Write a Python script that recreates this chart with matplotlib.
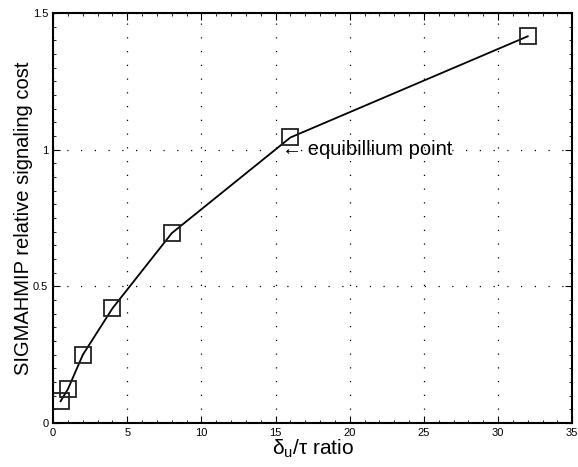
import matplotlib
matplotlib.use('Agg')
import matplotlib.pyplot as plt
from matplotlib.ticker import MultipleLocator

plt.rcParams['font.family'] = ['Liberation Sans', 'DejaVu Sans']
plt.rcParams['mathtext.fontset'] = 'custom'
plt.rcParams['mathtext.rm'] = 'Liberation Sans'
plt.rcParams['mathtext.it'] = 'Liberation Sans'

# data
ratio = [0.5, 1, 2, 4, 8, 16, 32]
cost = [0.08, 0.125, 0.25, 0.42, 0.695, 1.045, 1.415]

fig = plt.figure(figsize=(5.78, 4.67), dpi=100)
ax = fig.add_axes([0.092, 0.094, 0.898, 0.878])

ax.plot(ratio, cost, color='black', lw=1.3, marker='s', ms=11,
        mfc='none', mec='#222222', mew=1.3)
ax.text(15.4, 1.0, '\u2190 equibillium point', fontsize=14.5, va='center', ha='left')

ax.set_xlim(0, 35)
ax.set_ylim(0, 1.5)
ax.set_xticks([0, 5, 10, 15, 20, 25, 30, 35])
ax.set_yticks([0, 0.5, 1, 1.5])
ax.set_yticklabels(['0', '0.5', '1', '1.5'])
ax.xaxis.set_minor_locator(MultipleLocator(1))
ax.yaxis.set_minor_locator(MultipleLocator(0.05))
ax.tick_params(which='both', direction='in', top=True, right=True, labelsize=8)
ax.tick_params(which='major', length=5)
ax.tick_params(which='minor', length=2.5)
ax.grid(True, which='major', linestyle=(0, (1, 10)), color='black', lw=0.9)
for s in ax.spines.values():
    s.set_linewidth(1.5)

ax.set_xlabel(r'$\delta_u/\tau$ ratio', fontsize=15, labelpad=0)
ax.set_ylabel('SIGMAHMIP relative signaling cost', fontsize=14.5, labelpad=0)

fig.savefig('out.png', dpi=100)
